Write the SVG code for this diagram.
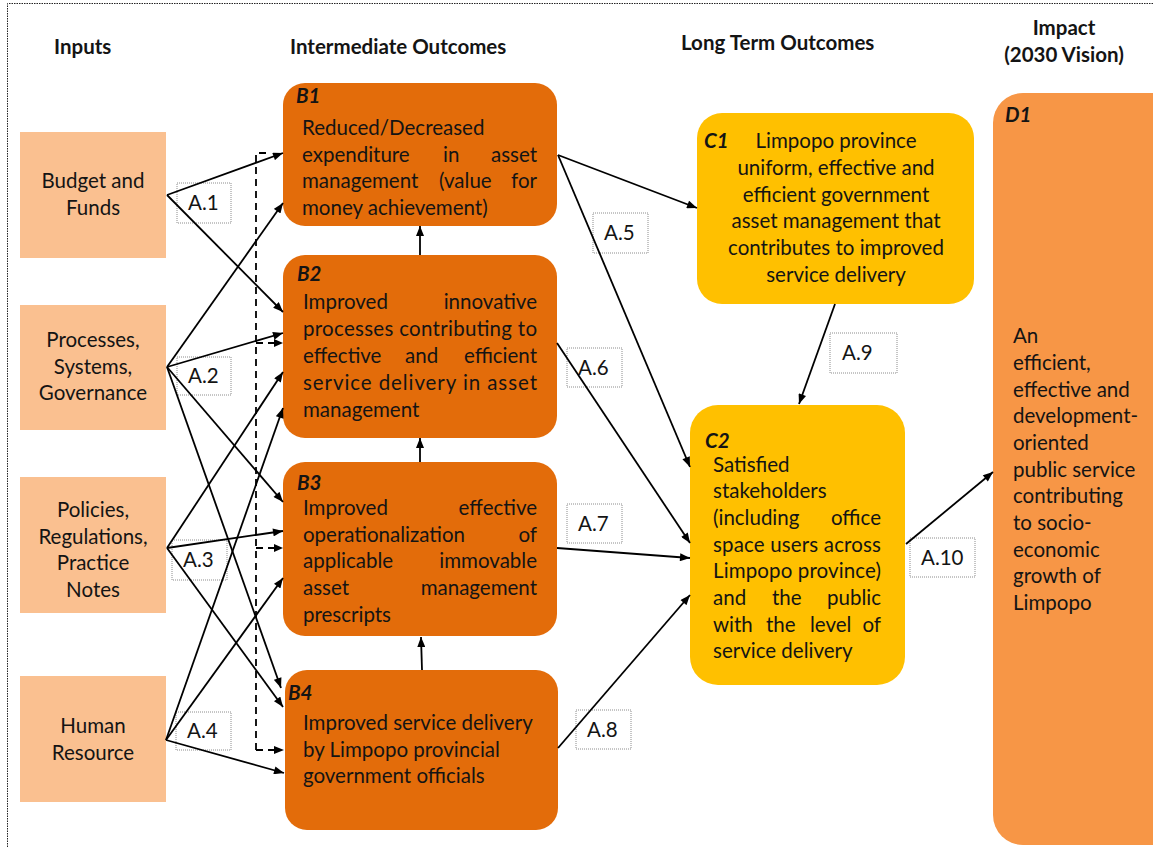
<svg xmlns="http://www.w3.org/2000/svg" width="1153" height="847" viewBox="0 0 1153 847">
  <defs>
    <style>
      .t { font-family: Lato, "Liberation Sans", sans-serif; font-size: 20.5px; fill: #141414; }
      .h { font-family: Lato, "Liberation Sans", sans-serif; font-size: 20.5px; font-weight: bold; fill: #141414; }
      .id { font-family: Lato, "Liberation Sans", sans-serif; font-size: 20.5px; font-weight: bold; font-style: italic; fill: #141414; }
      .m { text-anchor: middle; }
      .e { text-anchor: end; }
      .input { fill: #FAC090; }
      .inter { fill: #E36C0A; }
      .longterm { fill: #FFC000; }
      .impact { fill: #F79646; }
      .tag { fill: #ffffff; stroke: #8c8c8c; stroke-width: 1; stroke-dasharray: 1 1; }
      .link { stroke: #000; stroke-width: 1.8; fill: none; marker-end: url(#arrow); }
      .dash { stroke: #000; stroke-width: 1.8; fill: none; stroke-dasharray: 7 5; }
    </style>
    <marker id="arrow" viewBox="0 0 10 8" refX="10" refY="4" markerWidth="11" markerHeight="8" markerUnits="userSpaceOnUse" orient="auto">
      <path d="M0,0 L10,4 L0,8 z" fill="#000"/>
    </marker>
  </defs>

  <rect width="1153" height="847" fill="#ffffff"/>
  <!-- dotted page frame -->
  <path d="M7.5,847 V3.5 H1153" fill="none" stroke="#222" stroke-width="1" stroke-dasharray="1.5 1"/>

  <!-- column headings -->
  <g id="headings">
    <text class="h" x="54" y="54">Inputs</text>
    <text class="h" x="290" y="54">Intermediate Outcomes</text>
    <text class="h" x="681" y="50">Long Term Outcomes</text>
    <text class="h m" x="1064" y="35">Impact</text>
    <text class="h m" x="1064" y="62">(2030 Vision)</text>
  </g>

  <!-- inputs -->
  <g id="input-budget">
    <rect class="input" x="20" y="132" width="146" height="126"/>
    <text class="t m" x="93" y="188">Budget and</text>
    <text class="t m" x="93" y="215">Funds</text>
  </g>
  <g id="input-processes">
    <rect class="input" x="20" y="305" width="146" height="125"/>
    <text class="t m" x="93" y="347">Processes,</text>
    <text class="t m" x="93" y="374">Systems,</text>
    <text class="t m" x="93" y="400">Governance</text>
  </g>
  <g id="input-policies">
    <rect class="input" x="20" y="477" width="146" height="136"/>
    <text class="t m" x="93" y="517">Policies,</text>
    <text class="t m" x="93" y="544">Regulations,</text>
    <text class="t m" x="93" y="570">Practice</text>
    <text class="t m" x="93" y="597">Notes</text>
  </g>
  <g id="input-human">
    <rect class="input" x="20" y="676" width="146" height="126"/>
    <text class="t m" x="93" y="733">Human</text>
    <text class="t m" x="93" y="760">Resource</text>
  </g>

  <!-- intermediate outcomes -->
  <g id="B1">
    <rect class="inter" x="283" y="83" width="274" height="143" rx="22"/>
    <text class="id" x="296" y="103">B1</text>
    <text class="t" x="302" y="135">Reduced/Decreased</text>
    <text class="t" x="302" y="162">expenditure</text>
    <text class="t" x="443" y="162">in</text>
    <text class="t e" x="537" y="162">asset</text>
    <text class="t" x="302" y="188">management</text>
    <text class="t" x="439" y="188">(value</text>
    <text class="t e" x="537" y="188">for</text>
    <text class="t" x="302" y="215">money achievement)</text>
  </g>
  <g id="B2">
    <rect class="inter" x="283" y="255" width="274" height="183" rx="22"/>
    <text class="id" x="297" y="281">B2</text>
    <text class="t" x="303" y="309">Improved</text>
    <text class="t e" x="537" y="309">innovative</text>
    <text class="t" x="303" y="336" textLength="234" lengthAdjust="spacing">processes contributing to</text>
    <text class="t" x="303" y="363">effective</text>
    <text class="t" x="405" y="363">and</text>
    <text class="t e" x="537" y="363">efficient</text>
    <text class="t" x="303" y="390" textLength="234" lengthAdjust="spacing">service delivery in asset</text>
    <text class="t" x="303" y="417">management</text>
  </g>
  <g id="B3">
    <rect class="inter" x="283" y="462" width="274" height="174" rx="22"/>
    <text class="id" x="297" y="490">B3</text>
    <text class="t" x="303" y="515">Improved</text>
    <text class="t e" x="537" y="515">effective</text>
    <text class="t" x="303" y="542">operationalization</text>
    <text class="t e" x="537" y="542">of</text>
    <text class="t" x="303" y="568">applicable</text>
    <text class="t e" x="537" y="568">immovable</text>
    <text class="t" x="303" y="595">asset</text>
    <text class="t e" x="537" y="595">management</text>
    <text class="t" x="303" y="622">prescripts</text>
  </g>
  <g id="B4">
    <rect class="inter" x="285" y="670" width="273" height="160" rx="22"/>
    <text class="id" x="288" y="700">B4</text>
    <text class="t" x="303" y="730">Improved service delivery</text>
    <text class="t" x="303" y="757">by Limpopo provincial</text>
    <text class="t" x="303" y="783">government officials</text>
  </g>

  <!-- long term outcomes -->
  <g id="C1">
    <rect class="longterm" x="697" y="113" width="277" height="191" rx="25"/>
    <text class="id" x="704" y="148">C1</text>
    <text class="t m" x="836" y="148">Limpopo province</text>
    <text class="t m" x="836" y="175">uniform, effective and</text>
    <text class="t m" x="836" y="202">efficient government</text>
    <text class="t m" x="836" y="228">asset management that</text>
    <text class="t m" x="836" y="255">contributes to improved</text>
    <text class="t m" x="836" y="282">service delivery</text>
  </g>
  <g id="C2">
    <rect class="longterm" x="690" y="405" width="215" height="280" rx="28"/>
    <text class="id" x="705" y="448">C2</text>
    <text class="t" x="713" y="472">Satisfied</text>
    <text class="t" x="713" y="498">stakeholders</text>
    <text class="t" x="713" y="525">(including</text>
    <text class="t e" x="881" y="525">office</text>
    <text class="t" x="713" y="552" textLength="168" lengthAdjust="spacing">space users across</text>
    <text class="t" x="713" y="578" textLength="168" lengthAdjust="spacing">Limpopo province)</text>
    <text class="t" x="713" y="605">and</text>
    <text class="t" x="772" y="605">the</text>
    <text class="t e" x="881" y="605">public</text>
    <text class="t" x="713" y="632">with</text>
    <text class="t" x="766" y="632">the</text>
    <text class="t" x="810" y="632">level</text>
    <text class="t e" x="881" y="632">of</text>
    <text class="t" x="713" y="658">service delivery</text>
  </g>

  <!-- impact -->
  <g id="D1">
    <rect class="impact" x="993" y="93" width="190" height="752" rx="30"/>
    <text class="id" x="1005" y="122">D1</text>
    <text class="t" x="1013" y="343">An</text>
    <text class="t" x="1013" y="370">efficient,</text>
    <text class="t" x="1013" y="397">effective and</text>
    <text class="t" x="1013" y="423">development-</text>
    <text class="t" x="1013" y="450">oriented</text>
    <text class="t" x="1013" y="477">public service</text>
    <text class="t" x="1013" y="503">contributing</text>
    <text class="t" x="1013" y="530">to socio-</text>
    <text class="t" x="1013" y="557">economic</text>
    <text class="t" x="1013" y="583">growth of</text>
    <text class="t" x="1013" y="610">Limpopo</text>
  </g>

  <!-- assumption tags -->
  <g id="tags">
    <rect class="tag" x="177" y="183" width="54" height="40"/>
    <text class="t" x="188" y="210">A.1</text>
    <rect class="tag" x="177" y="357" width="54" height="38"/>
    <text class="t" x="188" y="383">A.2</text>
    <rect class="tag" x="172" y="540" width="55" height="40"/>
    <text class="t" x="183" y="567">A.3</text>
    <rect class="tag" x="176" y="712" width="55" height="38"/>
    <text class="t" x="187" y="738">A.4</text>
    <rect class="tag" x="593" y="213" width="55" height="40"/>
    <text class="t" x="604" y="240">A.5</text>
    <rect class="tag" x="567" y="348" width="55" height="39"/>
    <text class="t" x="578" y="375">A.6</text>
    <rect class="tag" x="567" y="504" width="55" height="39"/>
    <text class="t" x="578" y="531">A.7</text>
    <rect class="tag" x="576" y="710" width="55" height="39"/>
    <text class="t" x="587" y="737">A.8</text>
    <rect class="tag" x="830" y="333" width="67" height="40"/>
    <text class="t" x="842" y="360">A.9</text>
    <rect class="tag" x="910" y="538" width="65" height="39"/>
    <text class="t" x="921" y="565">A.10</text>
  </g>

  <!-- connectors -->
  <g id="connectors">
    <!-- Budget and Funds -->
    <line class="link" x1="167" y1="195" x2="283" y2="153"/>
    <line class="link" x1="167" y1="195" x2="283" y2="312"/>
    <!-- Processes, Systems, Governance -->
    <line class="link" x1="167" y1="367" x2="283" y2="203"/>
    <line class="link" x1="167" y1="367" x2="283" y2="333"/>
    <line class="link" x1="167" y1="367" x2="283" y2="502"/>
    <line class="link" x1="167" y1="367" x2="281" y2="688"/>
    <!-- Policies, Regulations, Practice Notes -->
    <line class="link" x1="167" y1="548" x2="283" y2="372"/>
    <line class="link" x1="167" y1="548" x2="283" y2="531"/>
    <line class="link" x1="167" y1="548" x2="283" y2="707"/>
    <!-- Human Resource -->
    <line class="link" x1="166" y1="740" x2="283" y2="408"/>
    <line class="link" x1="166" y1="740" x2="283" y2="578"/>
    <line class="link" x1="166" y1="740" x2="284" y2="773"/>

    <!-- dashed feedback spine -->
    <path class="dash" d="M256,750 V153 H270"/>
    <line class="dash" x1="256" y1="343" x2="276" y2="343"/>
    <line class="dash" x1="256" y1="548" x2="276" y2="548"/>
    <line class="dash" x1="256" y1="750" x2="276" y2="750"/>
    <path d="M274,339 L283,343 L274,347 z M274,544 L283,548 L274,552 z M274,746 L284,750 L274,754 z" fill="#000"/>

    <!-- between intermediate outcomes -->
    <line class="link" x1="420" y1="255" x2="420" y2="226"/>
    <line class="link" x1="420" y1="462" x2="420" y2="438"/>
    <line class="link" x1="422" y1="670" x2="421" y2="637"/>

    <!-- to long term outcomes -->
    <line class="link" x1="558" y1="155" x2="697" y2="208"/>
    <line class="link" x1="558" y1="155" x2="690" y2="467"/>
    <line class="link" x1="557" y1="343" x2="690" y2="543"/>
    <line class="link" x1="557" y1="548" x2="690" y2="558"/>
    <line class="link" x1="558" y1="748" x2="690" y2="595"/>
    <line class="link" x1="835" y1="304" x2="799" y2="404"/>

    <!-- to impact -->
    <line class="link" x1="906" y1="544" x2="993" y2="472"/>
  </g>
</svg>
